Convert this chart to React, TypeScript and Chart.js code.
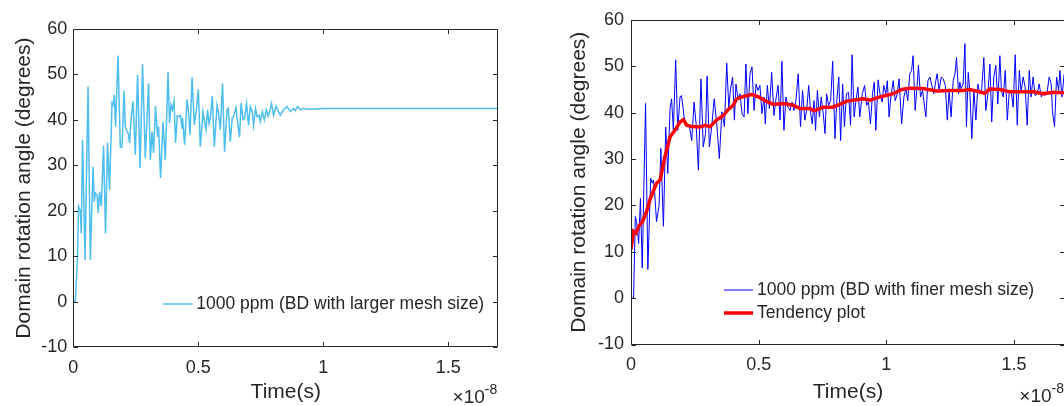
import React, { useEffect, useRef } from "react";
import { Chart, registerables } from "chart.js";
Chart.register(...registerables);

const FONT = "'Liberation Sans', Arial, Helvetica, sans-serif";
const TEXT = "#262626";

// axes (time in units of 1e-8 s)
const xTicks = [0, 0.5, 1, 1.5];
const xTickLabels = ["0", "0.5", "1", "1.5"];
const yTicks = [-10, 0, 10, 20, 30, 40, 50, 60];
const xTitle = "Time(s)";
const yTitle = "Domain rotation angle (degrees)";
const exponentBase = "\u00d710";
const exponentPower = "-8";

// left panel: BD with larger mesh size
const leftLabel = "1000 ppm (BD with larger mesh size)";
const leftTime = [
  0, 0.008, 0.017, 0.021, 0.028, 0.032, 0.037, 0.047, 0.059, 0.068, 0.079, 0.084, 0.088, 0.095, 0.1, 0.105,
  0.112, 0.121, 0.129, 0.137, 0.145, 0.155, 0.159, 0.164, 0.169, 0.179, 0.188, 0.195, 0.203, 0.208, 0.215,
  0.22, 0.225, 0.232, 0.239, 0.248, 0.257, 0.267, 0.277, 0.288, 0.301, 0.308, 0.315, 0.321, 0.329, 0.337,
  0.341, 0.349, 0.359, 0.368, 0.379, 0.385, 0.391, 0.396, 0.403, 0.409, 0.416, 0.424, 0.429, 0.435, 0.437,
  0.445, 0.455, 0.46, 0.467, 0.475, 0.484, 0.492, 0.5, 0.508, 0.519, 0.525, 0.531, 0.537, 0.543, 0.548,
  0.556, 0.564, 0.575, 0.58, 0.588, 0.597, 0.605, 0.615, 0.62, 0.628, 0.636, 0.641, 0.651, 0.656, 0.665,
  0.671, 0.679, 0.685, 0.693, 0.701, 0.708, 0.716, 0.721, 0.729, 0.735, 0.743, 0.748, 0.756, 0.764, 0.772,
  0.779, 0.785, 0.793, 0.801, 0.811, 0.817, 0.828, 0.841, 0.855, 0.868, 0.881, 0.888, 0.897, 0.908, 0.921,
  0.941, 0.961, 1.0, 1.2, 1.4, 1.7,
];
const leftAngle = [
  0, 0, 10, 21, 20, 15, 35.6, 9.2, 47.3, 9.2, 29.7, 22, 23.9, 23.5, 19.5, 24.2,
  21, 34.3, 15, 35, 24.6, 43.7, 43.3, 45.5, 38.5, 54.1, 34, 34, 46.4, 38.5, 37.4,
  37, 34.9, 40.7, 44, 32.3, 49.9, 29.4, 52.2, 31.6, 48, 31.2, 37.4, 32.7, 43, 36.3,
  38.5, 27.2, 39.6, 31.1, 50.5, 39.3, 43.3, 42.2, 44.1, 34.9, 40.9, 40.7, 40.9, 38.2, 40.4,
  34.5, 44.5, 42.2, 36.7, 49.3, 38.9, 42, 46.7, 34.1, 41.8, 39.6, 37.8, 42.2, 39.2, 40.4,
  45.2, 34.1, 43.2, 41.8, 37.8, 48, 33, 42.2, 42.5, 35.2, 40.5, 40.7, 42.7, 40, 36.2,
  43.7, 40, 40.3, 43.6, 38.8, 42.9, 41.8, 38.8, 42.5, 40.7, 41, 39.6, 41.8, 40, 42.2,
  40.8, 41.8, 43.6, 41, 43, 42.2, 41, 42.2, 42.9, 41.8, 42.5, 42, 42.9, 42.2, 42.5,
  42.3, 42.4, 42.5, 42.5, 42.5, 42.5,
];

// right panel: BD with finer mesh size + tendency
const rightLabel = "1000 ppm (BD with finer mesh size)";
const trendLabel = "Tendency plot";
const rightTime = [
  0, 0.01, 0.017, 0.022, 0.03, 0.037, 0.044, 0.057, 0.066, 0.077, 0.083, 0.088, 0.093, 0.1, 0.11, 0.117,
  0.127, 0.136, 0.144, 0.153, 0.159, 0.166, 0.175, 0.183, 0.192, 0.198, 0.208, 0.218, 0.228, 0.238, 0.247,
  0.255, 0.264, 0.274, 0.283, 0.292, 0.298, 0.307, 0.316, 0.326, 0.336, 0.346, 0.356, 0.366, 0.375, 0.383,
  0.39, 0.398, 0.405, 0.411, 0.419, 0.427, 0.435, 0.443, 0.45, 0.458, 0.466, 0.474, 0.482, 0.49, 0.497,
  0.505, 0.513, 0.521, 0.526, 0.534, 0.542, 0.551, 0.56, 0.568, 0.576, 0.584, 0.591, 0.599, 0.607, 0.615,
  0.623, 0.631, 0.638, 0.646, 0.655, 0.664, 0.672, 0.681, 0.688, 0.696, 0.704, 0.71, 0.717, 0.723, 0.73,
  0.738, 0.745, 0.753, 0.76, 0.766, 0.774, 0.782, 0.79, 0.799, 0.806, 0.814, 0.821, 0.829, 0.836, 0.844,
  0.852, 0.86, 0.866, 0.874, 0.881, 0.889, 0.896, 0.906, 0.915, 0.923, 0.93, 0.938, 0.946, 0.953, 0.959,
  0.968, 0.975, 0.984, 0.99, 0.998, 1.004, 1.011, 1.018, 1.027, 1.035, 1.043, 1.05, 1.06, 1.069, 1.077,
  1.084, 1.092, 1.099, 1.105, 1.113, 1.121, 1.126, 1.134, 1.142, 1.15, 1.155, 1.163, 1.171, 1.178, 1.186,
  1.194, 1.199, 1.207, 1.215, 1.223, 1.231, 1.239, 1.246, 1.254, 1.262, 1.269, 1.275, 1.283, 1.288, 1.293,
  1.301, 1.308, 1.314, 1.321, 1.327, 1.335, 1.343, 1.351, 1.359, 1.366, 1.374, 1.382, 1.39, 1.398, 1.406,
  1.413, 1.421, 1.429, 1.437, 1.445, 1.451, 1.458, 1.466, 1.474, 1.481, 1.489, 1.497, 1.505, 1.513, 1.521,
  1.528, 1.536, 1.544, 1.552, 1.56, 1.567, 1.575, 1.583, 1.591, 1.599, 1.607, 1.614, 1.622, 1.63, 1.638,
  1.646, 1.651, 1.659, 1.667, 1.675, 1.68, 1.688, 1.697,
];
const rightAngle = [
  0, 0, 17.6, 16.5, 11.8, 21.5, 6.5, 42, 6.2, 25.9, 24.8, 25.5, 22.5, 16.5, 20, 32.3,
  15.5, 36.9, 26.9, 40.9, 43, 36.2, 51.4, 36.2, 43.4, 43.7, 39.1, 37, 37.3, 34, 42.3,
  37.6, 27.6, 47.3, 32.6, 35.5, 47.9, 32.6, 37, 43, 37.6, 30.1, 40.2, 37, 50.7, 41.2,
  45.2, 47.7, 38.4, 46.2, 43, 44.1, 39.8, 39.1, 50.5, 39.8, 48.4, 49.9, 40.5, 46.2, 44.8,
  45.9, 39.8, 43.4, 37.6, 45.9, 40.9, 48.7, 39.4, 43, 45.9, 38.4, 51.1, 36.2, 43.4, 41.2,
  40.5, 42.3, 40.5, 42.6, 48.4, 37, 44.8, 38.4, 40.5, 45.9, 39.8, 37.6, 42.6, 36.2, 44.8,
  39.1, 43.4, 39.8, 35.5, 44.1, 41.6, 42.6, 51.1, 34.4, 42.6, 47.7, 34, 46.2, 37, 44.1,
  44.4, 37.3, 52.5, 39.1, 42.6, 45.5, 39.1, 44.1, 45.9, 41.6, 42.3, 37.6, 44.1, 46.6, 36.2,
  47.1, 44.1, 42.3, 45.9, 44.1, 46.9, 39.1, 43.4, 46.9, 42.6, 44.1, 47.3, 37.6, 43.4, 45.2,
  42.6, 48.4, 49.1, 52.3, 40.5, 46.2, 50.2, 43.4, 44.8, 41.2, 39.1, 46.9, 47.7, 45.9, 44.1,
  46.9, 48.4, 44.8, 47.7, 47.3, 45.9, 38.4, 44.8, 39.1, 46.9, 48.4, 51.9, 44.1, 46.6, 45.2,
  46.2, 54.9, 37, 48.7, 44.8, 34.4, 44.8, 38.4, 46.2, 44.1, 45.2, 51.9, 40.5, 44.1, 50.5,
  38, 47.7, 50.2, 41.9, 52.3, 44.8, 43.4, 49.1, 38.4, 44.1, 44.8, 41.2, 52.5, 37.3, 49.1,
  44.4, 47.7, 45.5, 37.3, 49.1, 43.4, 47.7, 43.7, 44.1, 46.2, 43.4, 44.1, 43.7, 44.4, 47.7,
  46.2, 40.2, 37, 47.7, 44.8, 49.1, 43.4, 48.4,
];
const trendTime = [
  0, 0.01, 0.02, 0.03, 0.045, 0.06, 0.074, 0.087, 0.1, 0.114, 0.133, 0.153, 0.172, 0.192, 0.205, 0.218,
  0.238, 0.27, 0.29, 0.31, 0.335, 0.362, 0.381, 0.4, 0.414, 0.44, 0.473, 0.5, 0.525, 0.557, 0.597, 0.636,
  0.662, 0.7, 0.717, 0.753, 0.79, 0.818, 0.845, 0.91, 0.936, 0.975, 1.027, 1.06, 1.092, 1.144, 1.197,
  1.249, 1.301, 1.327, 1.366, 1.386, 1.405, 1.445, 1.484, 1.523, 1.575, 1.614, 1.654, 1.7,
];
const trendAngle = [
  10.5, 14.4, 14, 15.5, 16.5, 18.5, 21.2, 23, 24.8, 25.5, 30.5, 34.8, 36.2, 38, 38.5, 37.3,
  37, 36.9, 37.3, 37, 38.4, 39.4, 40.7, 41.6, 43, 43.5, 43.9, 43.4, 42.6, 41.8, 42, 41.6,
  40.9, 40.9, 40.4, 41.2, 41.2, 41.8, 42.5, 43, 42.7, 43.4, 44.1, 45, 45.3, 45.2, 44.7,
  44.8, 44.8, 45, 44.5, 44.2, 45.1, 45, 44.5, 44.5, 44.5, 44.1, 44.4, 44.3,
];

const toPoints = (t: number[], v: number[]) => t.map((x, i) => ({ x, y: v[i] }));

const matlabAxes = {
  id: "matlabAxes",
  afterDraw(chart: any, _args: any, opts: any) {
    const { ctx, chartArea: a, scales } = chart;
    const xs = scales.x;
    const ys = scales.y;
    const L = Math.round(a.left) + 0.5;
    const R = Math.round(a.right) - 0.5;
    const T = Math.round(a.top) + 0.5;
    const B = Math.round(a.bottom) - 0.5;
    const tl = 4.5;
    ctx.save();
    ctx.strokeStyle = "#262626";
    ctx.lineWidth = 1;
    ctx.beginPath();
    ctx.rect(L, T, R - L, B - T);
    for (const v of xTicks) {
      const p = Math.round(xs.getPixelForValue(v)) + 0.5;
      ctx.moveTo(p, B);
      ctx.lineTo(p, B - tl);
      ctx.moveTo(p, T);
      ctx.lineTo(p, T + tl);
    }
    for (const v of yTicks) {
      const p = Math.round(ys.getPixelForValue(v)) + 0.5;
      ctx.moveTo(L, p);
      ctx.lineTo(L + tl, p);
      ctx.moveTo(R, p);
      ctx.lineTo(R - tl, p);
    }
    ctx.stroke();

    // exponent label
    ctx.fillStyle = TEXT;
    ctx.textBaseline = "middle";
    ctx.textAlign = "right";
    ctx.font = `14px ${FONT}`;
    const w2 = ctx.measureText(exponentPower).width;
    ctx.fillText(exponentPower, a.right - 1, opts.expoY - 8);
    ctx.font = `19px ${FONT}`;
    ctx.fillText(exponentBase, a.right - 1 - w2, opts.expoY);

    // legend
    ctx.textAlign = "left";
    ctx.font = `17.5px ${FONT}`;
    (opts.legend || []).forEach((it: any, i: number) => {
      const y = opts.legendY + i * opts.rowH;
      ctx.beginPath();
      ctx.strokeStyle = it.color;
      ctx.lineWidth = it.width;
      ctx.moveTo(a.left + opts.legendX, y);
      ctx.lineTo(a.left + opts.legendX + 29, y);
      ctx.stroke();
      ctx.fillStyle = TEXT;
      ctx.fillText(it.label, a.left + opts.legendX + 33, y);
    });
    ctx.restore();
  },
};

function makeOptions(cfg: any) {
  return {
    responsive: false,
    animation: false as const,
    devicePixelRatio: 1,
    layout: { padding: { left: 0, top: cfg.top, right: cfg.right, bottom: 0 } },
    plugins: {
      legend: { display: false },
      tooltip: { enabled: false },
      matlabAxes: cfg.plugin,
    },
    elements: { point: { radius: 0 }, line: { tension: 0 } },
    scales: {
      x: {
        type: "linear",
        min: 0,
        max: 1.7,
        grid: { display: false, drawTicks: false },
        border: { display: false },
        afterBuildTicks: (s: any) => {
          s.ticks = xTicks.map((value) => ({ value }));
        },
        afterFit: (s: any) => {
          s.height = cfg.xHeight;
        },
        ticks: {
          autoSkip: false,
          maxRotation: 0,
          padding: 10,
          color: TEXT,
          font: { family: FONT, size: 18 },
          callback: (_v: any, i: number) => xTickLabels[i],
        },
        title: {
          display: true,
          text: xTitle,
          color: TEXT,
          font: { family: FONT, size: 21 },
          padding: { top: 0, bottom: cfg.xTitlePad },
        },
      },
      y: {
        type: "linear",
        min: -10,
        max: 60,
        grid: { display: false, drawTicks: false },
        border: { display: false },
        afterBuildTicks: (s: any) => {
          s.ticks = yTicks.map((value) => ({ value }));
        },
        afterFit: (s: any) => {
          s.width = cfg.yWidth;
        },
        ticks: {
          autoSkip: false,
          padding: cfg.yTickPad,
          color: TEXT,
          font: { family: FONT, size: 18 },
          callback: (v: any) => String(v),
        },
        title: {
          display: true,
          text: yTitle,
          color: TEXT,
          font: { family: FONT, size: 21 },
          padding: { top: cfg.yTitlePad, bottom: 0 },
        },
      },
    },
  };
}

function LeftChart() {
  const ref = useRef<HTMLCanvasElement>(null);
  useEffect(() => {
    const chart = new Chart(ref.current as HTMLCanvasElement, {
      type: "line",
      data: {
        datasets: [
          {
            label: leftLabel,
            data: toPoints(leftTime, leftAngle),
            borderColor: "#4DBEEE",
            borderWidth: 1.5,
            pointRadius: 0,
          },
        ],
      },
      options: makeOptions({
        top: 28.8,
        right: 530 - 498.3,
        xHeight: 406 - 347.3,
        yWidth: 73.3,
        yTickPad: 6,
        xTitlePad: 1,
        yTitlePad: 11.4,
        plugin: {
          expoY: 398,
          legendX: 90,
          legendY: 304,
          rowH: 23,
          legend: [{ label: leftLabel, color: "#4DBEEE", width: 1.5 }],
        },
      }) as any,
      plugins: [matlabAxes],
    });
    return () => chart.destroy();
  }, []);
  return <canvas ref={ref} width={530} height={406} style={{ display: "block" }} />;
}

function RightChart() {
  const ref = useRef<HTMLCanvasElement>(null);
  useEffect(() => {
    const chart = new Chart(ref.current as HTMLCanvasElement, {
      type: "line",
      data: {
        datasets: [
          {
            label: rightLabel,
            data: toPoints(rightTime, rightAngle),
            borderColor: "#0000FF",
            borderWidth: 1,
            pointRadius: 0,
            order: 2,
          },
          {
            label: trendLabel,
            data: toPoints(trendTime, trendAngle),
            borderColor: "#FF0000",
            borderWidth: 3.5,
            pointRadius: 0,
            order: 1,
          },
        ],
      },
      options: makeOptions({
        top: 20,
        right: 15,
        xHeight: 406 - 344.5,
        yWidth: 91,
        yTickPad: 7,
        xTitlePad: 1,
        yTitlePad: 26.4,
        plugin: {
          expoY: 397,
          legendX: 93,
          legendY: 290,
          rowH: 23,
          legend: [
            { label: rightLabel, color: "#0000FF", width: 1 },
            { label: trendLabel, color: "#FF0000", width: 3.5 },
          ],
        },
      }) as any,
      plugins: [matlabAxes],
    });
    return () => chart.destroy();
  }, []);
  return <canvas ref={ref} width={540} height={406} style={{ display: "block" }} />;
}

export default function App() {
  return (
    <div
      style={{
        position: "fixed",
        left: 0,
        top: 0,
        width: 1064,
        height: 406,
        overflow: "hidden",
        background: "#ffffff",
      }}
    >
      <div style={{ position: "absolute", left: 0, top: 0, width: 530, height: 406 }}>
        <LeftChart />
      </div>
      <div style={{ position: "absolute", left: 540, top: 0, width: 540, height: 406 }}>
        <RightChart />
      </div>
    </div>
  );
}
